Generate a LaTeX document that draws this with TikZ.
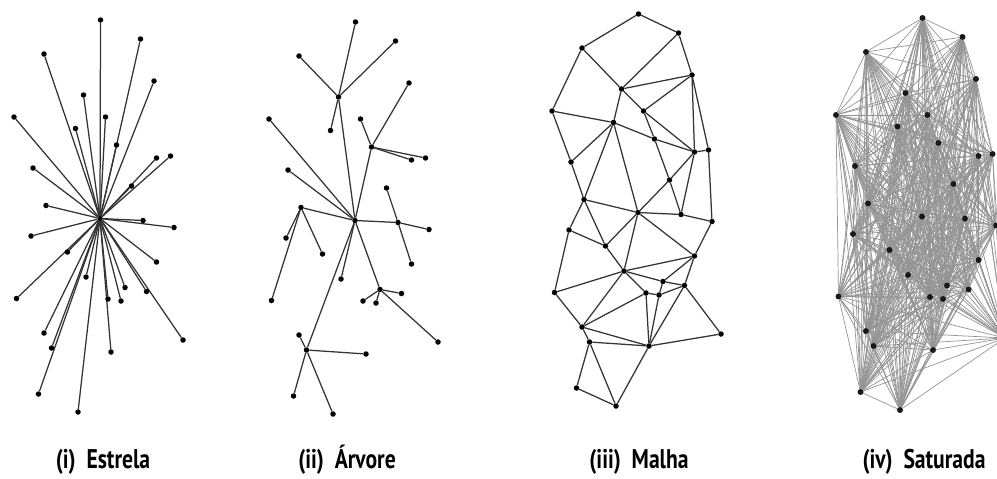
\documentclass[tikz,border=0pt]{standalone}
\usepackage{fontspec}
\setmainfont{PT Sans}[FakeStretch=0.8]
\pgfdeclarelayer{bg}
\pgfsetlayers{bg,main}
\begin{document}
\begin{tikzpicture}[x=1pt,y=-1pt,
  dot/.style={circle,fill=black,inner sep=0pt,minimum size=5.5pt},
  sdot/.style={circle,fill=black!90,inner sep=0pt,minimum size=6pt},
  ln/.style={draw=black!80,line width=1.25pt},
  sln/.style={draw=black!42,line width=0.7pt},
  lab/.style={anchor=base,font=\fontsize{27}{29}\selectfont\bfseries}]
\useasboundingbox (0,0) rectangle (997,479);
\clip (0,0) rectangle (997,479);
\def\pts{1/100.5/20, 2/140.5/39, 3/44/54, 4/154/81, 5/83.5/95, 6/14/117, 7/105.5/117, 8/75.5/128.5, 9/116.5/145, 10/156.5/158, 11/170.5/156, 12/33/168, 13/131.5/186, 14/46/205.5, 15/100/218.5, 16/143/220.5, 17/174/227.5, 18/31/236, 19/67.5/252, 20/156.5/262, 21/86/277, 22/125/287.5, 23/146.5/291.5, 24/16.5/298.5, 25/108/299, 26/121/301, 27/44/333, 28/51.5/348, 29/111/352, 30/183/340, 31/38.5/394, 32/78/412}
\foreach \k/\x/\y in \pts {
  \node[dot] (s\k) at (\x,\y) {};
  \node[dot] (t\k) at (\x+255,\y+2) {};
  \node[dot] (m\k) at (\x+538,\y-6) {};
  \node[sdot] (f\k) at (\x+822,\y-2) {};
}
\begin{pgfonlayer}{bg}
% (i) star
\foreach \k in {1,...,14,16,17,...,32} \draw[ln] (s15) -- (s\k);
% (ii) tree
\foreach \a/\b in {5/1,5/2,5/3,5/8,5/15,6/15,12/15,14/15,9/15,9/7,9/4,9/10,9/11,13/16,16/20,15/16,16/17,14/18,14/19,14/24,15/21,15/22,22/23,22/25,22/26,22/30,15/28,28/27,28/29,28/31,28/32}
  \draw[ln] (t\a) -- (t\b);
% (iii) mesh
\foreach \a/\b in {1/2,1/3,2/5,2/4,3/5,3/6,5/4,5/7,5/8,7/4,4/10,4/11,6/8,6/12,8/9,9/10,7/9,9/13,7/10,10/11,8/12,8/14,8/15,12/14,10/13,11/17,13/15,13/16,10/16,14/15,14/18,14/19,15/16,16/17,17/20,15/20,15/19,15/21,18/19,18/24,19/21,21/20,21/24,21/22,21/25,21/27,20/22,20/23,22/23,22/26,25/26,26/23,24/27,27/25,27/28,27/29,28/29,28/31,28/32,31/32,29/32,25/29,26/29,23/29,23/30,29/30}
  \draw[ln] (m\a) -- (m\b);
% (iv) saturated
\foreach \a in {1,...,32}{
  \foreach \b in {1,...,32}{
    \ifnum\b>\a \draw[sln] (f\a) -- (f\b);\fi
  }
}
\end{pgfonlayer}
\node[lab] (l1) at (103,468) {(i)\hspace{0.4em}Estrela};
\node[lab] (l2) at (347,468) {(ii)\hspace{0.4em}Árvore};
\node[lab] (l3) at (639,468) {(iii)\hspace{0.4em}Malha};
\node[lab] (l4) at (924,468) {(iv)\hspace{0.4em}Saturada};
\end{tikzpicture}
\end{document}
